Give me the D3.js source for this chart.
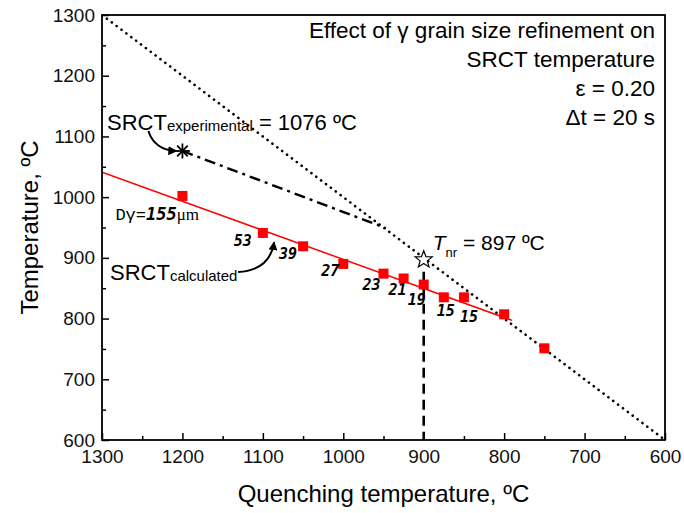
<!DOCTYPE html>
<html>
<head>
<meta charset="utf-8">
<script src="https://cdn.jsdelivr.net/npm/d3@7"></script>
<style>
  body { margin: 0; background: #fff; }
  svg { display: block; font-family: "Liberation Sans", Arial, sans-serif; }
</style>
</head>
<body>
<div id="chart"></div>
<script>
// quenching temperature (ºC) and measured SRCT values
var quenchTemps = [1200, 1100, 1050, 1000, 950, 925, 900, 875, 850, 800, 750];
var srctValues  = [1002, 941, 919, 890, 874, 866, 856, 835, 835, 807, 751];
// austenite grain size (μm) at each quench temp, null = not labelled
var grainSizes  = [155, 53, 39, 27, 23, 21, 19, 15, 15, null, null];

// fitted SRCT line (calculated)
var fitX = [1300, 790];
var fitY = [1041, 797];

// experimental SRCT point and its extension
var expX = [1200, 947];
var expY = [1076, 949];

// Tnr
var tnrX = 900;
var tnrY = 897;

var xTicks = [1300, 1200, 1100, 1000, 900, 800, 700, 600];
var yTicks = [600, 700, 800, 900, 1000, 1100, 1200, 1300];

var width = 684, height = 513;
var svg = d3.select("#chart").append("svg")
  .attr("width", width)
  .attr("height", height);

var x = d3.scaleLinear().domain([1300, 600]).range([102, 665]);
var y = d3.scaleLinear().domain([600, 1300]).range([440, 15]);

var line = d3.line().x(d => x(d[0])).y(d => y(d[1]));

// clip everything inside the frame
svg.append("clipPath").attr("id", "plotclip")
  .append("rect")
  .attr("x", x(1300)).attr("y", y(1300))
  .attr("width", x(600) - x(1300)).attr("height", y(600) - y(1300));

var plot = svg.append("g").attr("clip-path", "url(#plotclip)");

// diagonal y = x
plot.append("path")
  .attr("d", line([[1300, 1300], [600, 600]]))
  .attr("fill", "none")
  .attr("stroke", "#000")
  .attr("stroke-width", 2.6)
  .attr("stroke-linecap", "round")
  .attr("stroke-dasharray", "0.1,6");

// experimental dash-dot
plot.append("path")
  .attr("d", line(d3.zip(expX, expY)))
  .attr("fill", "none")
  .attr("stroke", "#000")
  .attr("stroke-width", 2.4)
  .attr("stroke-dasharray", "11,5,3,5");

// fitted red line
plot.append("path")
  .attr("d", line(d3.zip(fitX, fitY)))
  .attr("fill", "none")
  .attr("stroke", "#ff0000")
  .attr("stroke-width", 1.5);

// vertical dashed line at Tnr
plot.append("line")
  .attr("x1", x(tnrX)).attr("x2", x(tnrX))
  .attr("y1", y(tnrY) + 12).attr("y2", y(600))
  .attr("stroke", "#000")
  .attr("stroke-width", 2.6)
  .attr("stroke-dasharray", "10,6");

// red squares
var sq = 10;
plot.selectAll("rect.pt")
  .data(d3.zip(quenchTemps, srctValues))
  .enter().append("rect")
  .attr("class", "pt")
  .attr("x", d => x(d[0]) - sq / 2)
  .attr("y", d => y(d[1]) - sq / 2)
  .attr("width", sq)
  .attr("height", sq)
  .attr("fill", "#ff0000");

// asterisk at experimental SRCT
var ast = svg.append("g")
  .attr("transform", "translate(" + x(expX[0]) + "," + y(expY[0]) + ")");
[0, 45, 90, 135].forEach(function (a) {
  var r = 7.5, rad = a * Math.PI / 180;
  ast.append("line")
    .attr("x1", -r * Math.cos(rad)).attr("y1", -r * Math.sin(rad))
    .attr("x2", r * Math.cos(rad)).attr("y2", r * Math.sin(rad))
    .attr("stroke", "#000").attr("stroke-width", 1.8);
});

// open star at Tnr
var starPts = d3.range(10).map(function (i) {
  var r = i % 2 === 0 ? 9 : 3.8;
  var a = -Math.PI / 2 + i * Math.PI / 5;
  return [r * Math.cos(a), r * Math.sin(a)];
});
svg.append("path")
  .attr("transform", "translate(" + x(tnrX) + "," + y(tnrY) + ")")
  .attr("d", "M" + starPts.join("L") + "Z")
  .attr("fill", "#fff")
  .attr("stroke", "#000")
  .attr("stroke-width", 1.2);

// grain size labels next to points
var labelNudge = [null, [-20, 13], [-15, 13], [-13, 12], [-12, 16], [-6, 16], [-7, 20], [2, 19], [5, 25]];
var mono = "'DejaVu Sans Mono', 'Liberation Mono', monospace";
grainSizes.forEach(function (g, i) {
  if (g === null || i === 0) return;
  var n = labelNudge[i];
  svg.append("text")
    .attr("x", x(quenchTemps[i]) + n[0])
    .attr("y", y(srctValues[i]) + n[1])
    .attr("text-anchor", "middle")
    .style("font-family", mono)
    .style("font-style", "italic")
    .style("font-weight", "bold")
    .style("font-size", "15px")
    .text(g);
});

// D gamma = 155 um
var dg = svg.append("text")
  .attr("x", x(1200) - 67)
  .attr("y", y(srctValues[0]) + 24)
  .style("font-size", "17px");
dg.append("tspan").style("font-family", "'Liberation Mono', monospace").text("Dγ=");
dg.append("tspan").style("font-family", mono).style("font-style", "italic")
  .style("font-weight", "bold").text(grainSizes[0]);
dg.append("tspan").style("font-family", "'Liberation Serif', serif").text("μm");

// SRCT experimental label
var expLabel = svg.append("text")
  .attr("x", 107).attr("y", 130)
  .style("font-size", "22px");
expLabel.append("tspan").text("SRCT");
expLabel.append("tspan").style("font-size", "15px").attr("dy", 1).text("experimental");
expLabel.append("tspan").attr("dy", -1).text(" = " + expY[0] + " ºC");

// SRCT calculated label
var calcLabel = svg.append("text")
  .attr("x", 110).attr("y", 280)
  .style("font-size", "22px");
calcLabel.append("tspan").text("SRCT");
calcLabel.append("tspan").style("font-size", "15px").attr("dy", 1).text("calculated");

// Tnr label
var tnrLabel = svg.append("text")
  .attr("x", x(tnrX) + 9).attr("y", y(tnrY) - 10)
  .style("font-size", "21px");
tnrLabel.append("tspan").style("font-style", "italic").text("T");
tnrLabel.append("tspan").style("font-size", "13px").attr("dy", 7).text("nr");
tnrLabel.append("tspan").attr("dy", -7).text(" = " + tnrY + " ºC");

// curved arrows
svg.append("defs").append("marker")
  .attr("id", "arrow")
  .attr("viewBox", "0 0 10 10")
  .attr("refX", 9).attr("refY", 5)
  .attr("markerWidth", 4.5).attr("markerHeight", 4.5)
  .attr("orient", "auto")
  .append("path")
  .attr("d", "M0,0L10,5L0,10Z")
  .attr("fill", "#000");

var ax = x(expX[0]), ay = y(expY[0]);
svg.append("path")
  .attr("d", "M" + (ax - 34) + "," + (ay - 20) +
    "Q" + (ax - 28) + "," + (ay - 1) + " " + (ax - 6) + "," + ay)
  .attr("fill", "none").attr("stroke", "#000").attr("stroke-width", 2)
  .attr("marker-end", "url(#arrow)");

var cx = x(1086), cy = y(926);
svg.append("path")
  .attr("d", "M" + (cx - 36) + "," + (cy + 30) +
    "Q" + (cx - 4) + "," + (cy + 28) + " " + cx + "," + cy)
  .attr("fill", "none").attr("stroke", "#000").attr("stroke-width", 2)
  .attr("marker-end", "url(#arrow)");

// title block
var titleLines = ["Effect of γ grain size refinement on", "SRCT temperature", "ε = 0.20", "Δt = 20 s"];
svg.selectAll("text.title")
  .data(titleLines)
  .enter().append("text")
  .attr("class", "title")
  .attr("x", 655)
  .attr("y", (d, i) => 38 + i * 29)
  .attr("text-anchor", "end")
  .style("font-size", "22.5px")
  .text(d => d);

// axes
var xAxis = svg.append("g")
  .attr("transform", "translate(0," + y(600) + ")")
  .call(d3.axisBottom(x).tickValues(xTicks).tickSize(-7).tickPadding(10).tickFormat(d3.format("d")));
svg.append("g")
  .attr("transform", "translate(0," + y(600) + ")")
  .call(d3.axisBottom(x).tickValues(d3.range(1250, 600, -100)).tickSize(-4).tickFormat(""));
var yAxis = svg.append("g")
  .attr("transform", "translate(" + x(1300) + ",0)")
  .call(d3.axisLeft(y).tickValues(yTicks).tickSize(-7).tickPadding(7).tickFormat(d3.format("d")));
svg.append("g")
  .attr("transform", "translate(" + x(1300) + ",0)")
  .call(d3.axisLeft(y).tickValues(d3.range(650, 1300, 100)).tickSize(-4).tickFormat(""));

svg.selectAll(".domain").remove();
svg.selectAll(".tick line").attr("stroke", "#000").attr("stroke-width", 1.5);
svg.selectAll(".tick text")
  .attr("fill", "#111")
  .style("font-family", "'Liberation Sans', Arial, sans-serif")
  .style("font-size", "19px");

// frame
svg.append("rect")
  .attr("x", x(1300)).attr("y", y(1300))
  .attr("width", x(600) - x(1300)).attr("height", y(600) - y(1300))
  .attr("fill", "none")
  .attr("stroke", "#000")
  .attr("stroke-width", 1.8);

// axis titles
svg.append("text")
  .attr("x", (x(1300) + x(600)) / 2)
  .attr("y", 502)
  .attr("text-anchor", "middle")
  .style("font-size", "24px")
  .text("Quenching temperature, ºC");

svg.append("text")
  .attr("transform", "translate(38," + (y(600) + y(1300)) / 2 + ") rotate(-90)")
  .attr("text-anchor", "middle")
  .style("font-size", "24px")
  .text("Temperature, ºC");
</script>
</body>
</html>
